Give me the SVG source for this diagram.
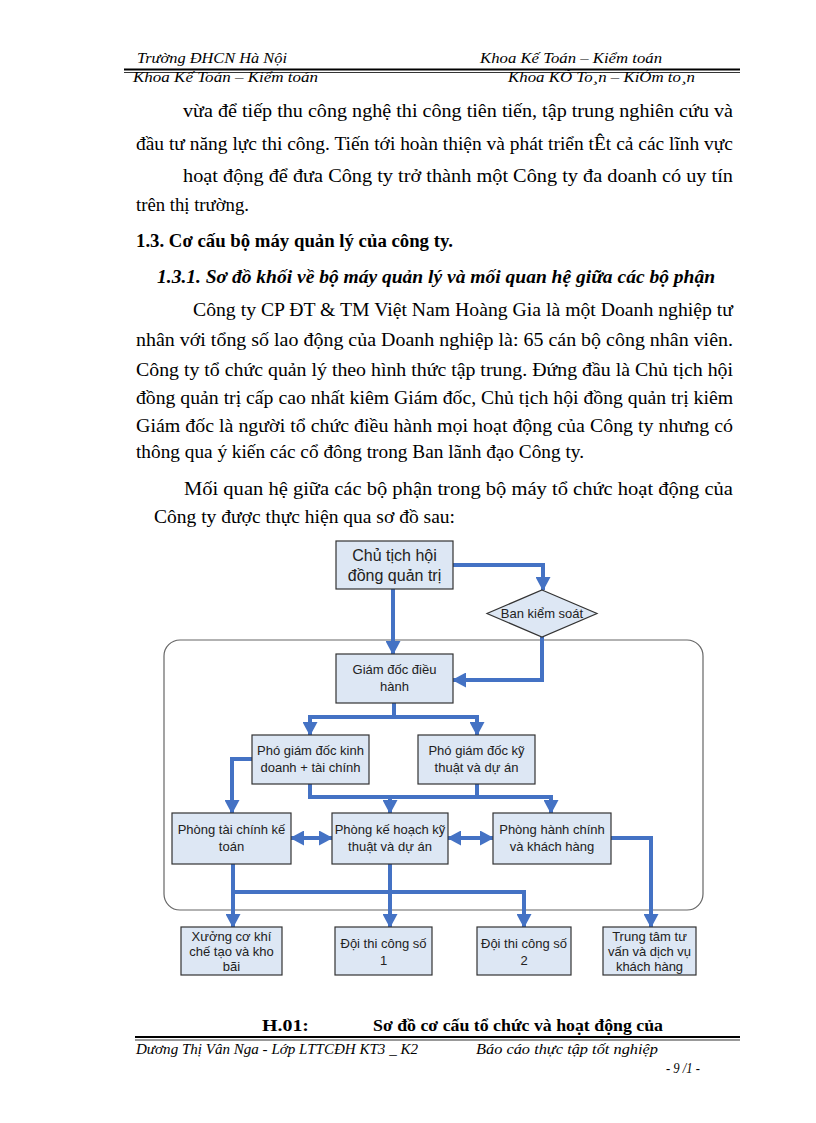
<svg xmlns="http://www.w3.org/2000/svg" width="816" height="1123" viewBox="0 0 816 1123">
<style>
.hd{font-family:"Liberation Serif",serif;font-style:italic;font-size:15px;fill:#000}
.bt{font-family:"Liberation Serif",serif;font-size:18px;fill:#000}
.h1{font-family:"Liberation Serif",serif;font-size:18px;font-weight:bold;fill:#000}
.h2{font-family:"Liberation Serif",serif;font-size:18px;font-weight:bold;font-style:italic;fill:#000}
.cap{font-family:"Liberation Serif",serif;font-size:17px;font-weight:bold;fill:#000}
.box{fill:#dde7f4;stroke:#333;stroke-width:1.2}
.bx{font-family:"Liberation Sans",Arial,sans-serif;font-size:13px;fill:#222;text-anchor:middle}
.con{fill:none;stroke:#4472c4;stroke-width:4}
</style>
<defs>
<marker id="ah" markerUnits="userSpaceOnUse" markerWidth="15" markerHeight="15" refX="13" refY="7.5" orient="auto-start-reverse" viewBox="0 0 15 15">
<path d="M0,0 L14,7.5 L0,15 z" fill="#4472c4"/>
</marker>
</defs>
<rect width="816" height="1123" fill="#fff"/>

<!-- header -->
<g id="header">
<text class="hd" x="137" y="63" textLength="150" lengthAdjust="spacingAndGlyphs">Trường ĐHCN Hà Nội</text>
<text class="hd" x="480" y="63" textLength="182" lengthAdjust="spacingAndGlyphs">Khoa Kế Toán – Kiểm toán</text>
<line x1="124" y1="69.5" x2="740" y2="69.5" stroke="#000" stroke-width="2"/>
<line x1="124" y1="72.5" x2="740" y2="72.5" stroke="#000" stroke-width="0.8"/>
<text class="hd" x="133" y="82" textLength="185" lengthAdjust="spacingAndGlyphs">Khoa Kế Toán – Kiểm toán</text>
<text class="hd" x="508" y="82" textLength="187" lengthAdjust="spacingAndGlyphs">Khoa KÕ To¸n – KiÓm to¸n</text>
</g>

<!-- body text -->
<g id="body">
<text class="bt" x="183" y="117" textLength="550" lengthAdjust="spacingAndGlyphs">vừa để tiếp thu công nghệ thi công tiên tiến, tập trung nghiên cứu và</text>
<text class="bt" x="136" y="150" textLength="597" lengthAdjust="spacingAndGlyphs">đầu tư năng lực thi công. Tiến tới hoàn thiện và phát triển tÊt cả các lĩnh vực</text>
<text class="bt" x="183" y="182" textLength="550" lengthAdjust="spacingAndGlyphs">hoạt động để đưa Công ty trở thành một Công ty đa doanh có uy tín</text>
<text class="bt" x="136" y="211" textLength="113" lengthAdjust="spacingAndGlyphs">trên thị trường.</text>
<text class="h1" x="136" y="247" textLength="317" lengthAdjust="spacingAndGlyphs">1.3. Cơ cấu bộ máy quản lý của công ty.</text>
<text class="h2" x="157" y="283" textLength="558" lengthAdjust="spacingAndGlyphs">1.3.1. Sơ đồ khối về bộ máy quản lý và mối quan hệ giữa các bộ phận</text>
<text class="bt" x="193" y="316" textLength="540" lengthAdjust="spacingAndGlyphs">Công ty CP ĐT &amp; TM Việt Nam Hoàng Gia là một Doanh nghiệp tư</text>
<text class="bt" x="136" y="346" textLength="597" lengthAdjust="spacingAndGlyphs">nhân với tổng số lao động của Doanh nghiệp là: 65 cán bộ công nhân viên.</text>
<text class="bt" x="136" y="376" textLength="597" lengthAdjust="spacingAndGlyphs">Công ty tổ chức quản lý theo hình thức tập trung. Đứng đầu là Chủ tịch hội</text>
<text class="bt" x="136" y="404" textLength="597" lengthAdjust="spacingAndGlyphs">đồng quản trị cấp cao nhất kiêm Giám đốc, Chủ tịch hội đồng quản trị kiêm</text>
<text class="bt" x="136" y="432" textLength="597" lengthAdjust="spacingAndGlyphs">Giám đốc là người tổ chức điều hành mọi hoạt động của Công ty nhưng có</text>
<text class="bt" x="136" y="458" textLength="448" lengthAdjust="spacingAndGlyphs">thông qua ý kiến các cổ đông trong Ban lãnh đạo Công ty.</text>
<text class="bt" x="184" y="495" textLength="549" lengthAdjust="spacingAndGlyphs">Mối quan hệ giữa các bộ phận trong bộ máy tổ chức hoạt động của</text>
<text class="bt" x="154" y="523" textLength="301" lengthAdjust="spacingAndGlyphs">Công ty được thực hiện qua sơ đồ sau:</text>
</g>

<!-- container -->
<rect id="container" x="164" y="640" width="539" height="270" rx="16" fill="none" stroke="#666" stroke-width="1.2"/>

<!-- connectors -->
<g id="connectors">
<path class="con" d="M453,565 H543 V590" marker-end="url(#ah)"/>
<path class="con" d="M393,589 V654" marker-end="url(#ah)"/>
<path class="con" d="M542,637 V680 H453" marker-end="url(#ah)"/>
<path class="con" d="M394,703 V717 H310 V735" marker-end="url(#ah)"/>
<path class="con" d="M392,717 H477 V735" marker-end="url(#ah)"/>
<path class="con" d="M252,759 H232 V813" marker-end="url(#ah)"/>
<path class="con" d="M310,784 V797 H551 V813" marker-end="url(#ah)"/>
<path class="con" d="M477,784 V797"/>
<path class="con" d="M390,797 V813" marker-end="url(#ah)"/>
<path class="con" d="M291,838 H332" marker-start="url(#ah)" marker-end="url(#ah)"/>
<path class="con" d="M448,838 H493" marker-start="url(#ah)" marker-end="url(#ah)"/>
<path class="con" d="M611,838 H651 V927" marker-end="url(#ah)"/>
<path class="con" d="M233,864 V927" marker-end="url(#ah)"/>
<path class="con" d="M390,864 V927" marker-end="url(#ah)"/>
<path class="con" d="M233,892 H524 V927" marker-end="url(#ah)"/>
</g>

<!-- nodes -->
<g id="chu-tich">
<rect class="box" x="336" y="541" width="117" height="48"/>
<text class="bx" x="394.5" y="561" style="font-size:16px">Chủ tịch hội</text>
<text class="bx" x="394.5" y="581" style="font-size:16px">đồng quản trị</text>
</g>
<g id="ban-kiem-soat">
<polygon class="box" points="542,590 597,613.5 542,637 487,613.5"/>
<text class="bx" x="542" y="618">Ban kiểm soát</text>
</g>
<g id="giam-doc">
<rect class="box" x="336" y="654" width="117" height="49"/>
<text class="bx" x="394.5" y="674">Giám đốc điều</text>
<text class="bx" x="394.5" y="691">hành</text>
</g>
<g id="pgd-kinh-doanh">
<rect class="box" x="252" y="735" width="117" height="49"/>
<text class="bx" x="310.5" y="755">Phó giám đốc kinh</text>
<text class="bx" x="310.5" y="772">doanh + tài chính</text>
</g>
<g id="pgd-ky-thuat">
<rect class="box" x="418" y="735" width="117" height="49"/>
<text class="bx" x="476.5" y="755">Phó giám đốc kỹ</text>
<text class="bx" x="476.5" y="772">thuật và dự án</text>
</g>
<g id="phong-tai-chinh">
<rect class="box" x="172" y="813" width="119" height="51"/>
<text class="bx" x="231.5" y="834">Phòng tài chính kế</text>
<text class="bx" x="231.5" y="851">toán</text>
</g>
<g id="phong-ke-hoach">
<rect class="box" x="332" y="813" width="116" height="51"/>
<text class="bx" x="390" y="834">Phòng kế hoạch kỹ</text>
<text class="bx" x="390" y="851">thuật và dự án</text>
</g>
<g id="phong-hanh-chinh">
<rect class="box" x="493" y="813" width="118" height="51"/>
<text class="bx" x="552" y="834">Phòng hành chính</text>
<text class="bx" x="552" y="851">và khách hàng</text>
</g>
<g id="xuong-co-khi">
<rect class="box" x="181" y="927" width="101" height="48"/>
<text class="bx" x="231.5" y="941">Xưởng cơ khí</text>
<text class="bx" x="231.5" y="956">chế tạo và kho</text>
<text class="bx" x="231.5" y="971">bãi</text>
</g>
<g id="doi-1">
<rect class="box" x="335" y="927" width="97" height="48"/>
<text class="bx" x="383.5" y="948">Đội thi công số</text>
<text class="bx" x="383.5" y="965">1</text>
</g>
<g id="doi-2">
<rect class="box" x="477" y="927" width="94" height="48"/>
<text class="bx" x="524" y="948">Đội thi công số</text>
<text class="bx" x="524" y="965">2</text>
</g>
<g id="trung-tam">
<rect class="box" x="603" y="927" width="93" height="48"/>
<text class="bx" x="649.5" y="941">Trung tâm tư</text>
<text class="bx" x="649.5" y="956">vấn và dịch vụ</text>
<text class="bx" x="649.5" y="971">khách hàng</text>
</g>

<!-- caption and footer -->
<g id="footer">
<text class="cap" x="262" y="1031" textLength="47" lengthAdjust="spacingAndGlyphs">H.01:</text>
<text class="cap" x="373" y="1031" textLength="290" lengthAdjust="spacingAndGlyphs">Sơ đồ cơ cấu tổ chức và hoạt động của</text>
<line x1="135" y1="1037" x2="740" y2="1037" stroke="#000" stroke-width="2"/>
<line x1="135" y1="1040" x2="740" y2="1040" stroke="#000" stroke-width="0.8"/>
<text class="hd" x="136" y="1054" textLength="282" lengthAdjust="spacingAndGlyphs">Dương Thị Vân Nga - Lớp LTTCĐH KT3 _ K2</text>
<text class="hd" x="476" y="1054" textLength="182" lengthAdjust="spacingAndGlyphs">Báo cáo thực tập tốt nghiệp</text>
<text class="hd" x="666" y="1073" textLength="34" lengthAdjust="spacingAndGlyphs">- 9 /1 -</text>
</g>
</svg>
